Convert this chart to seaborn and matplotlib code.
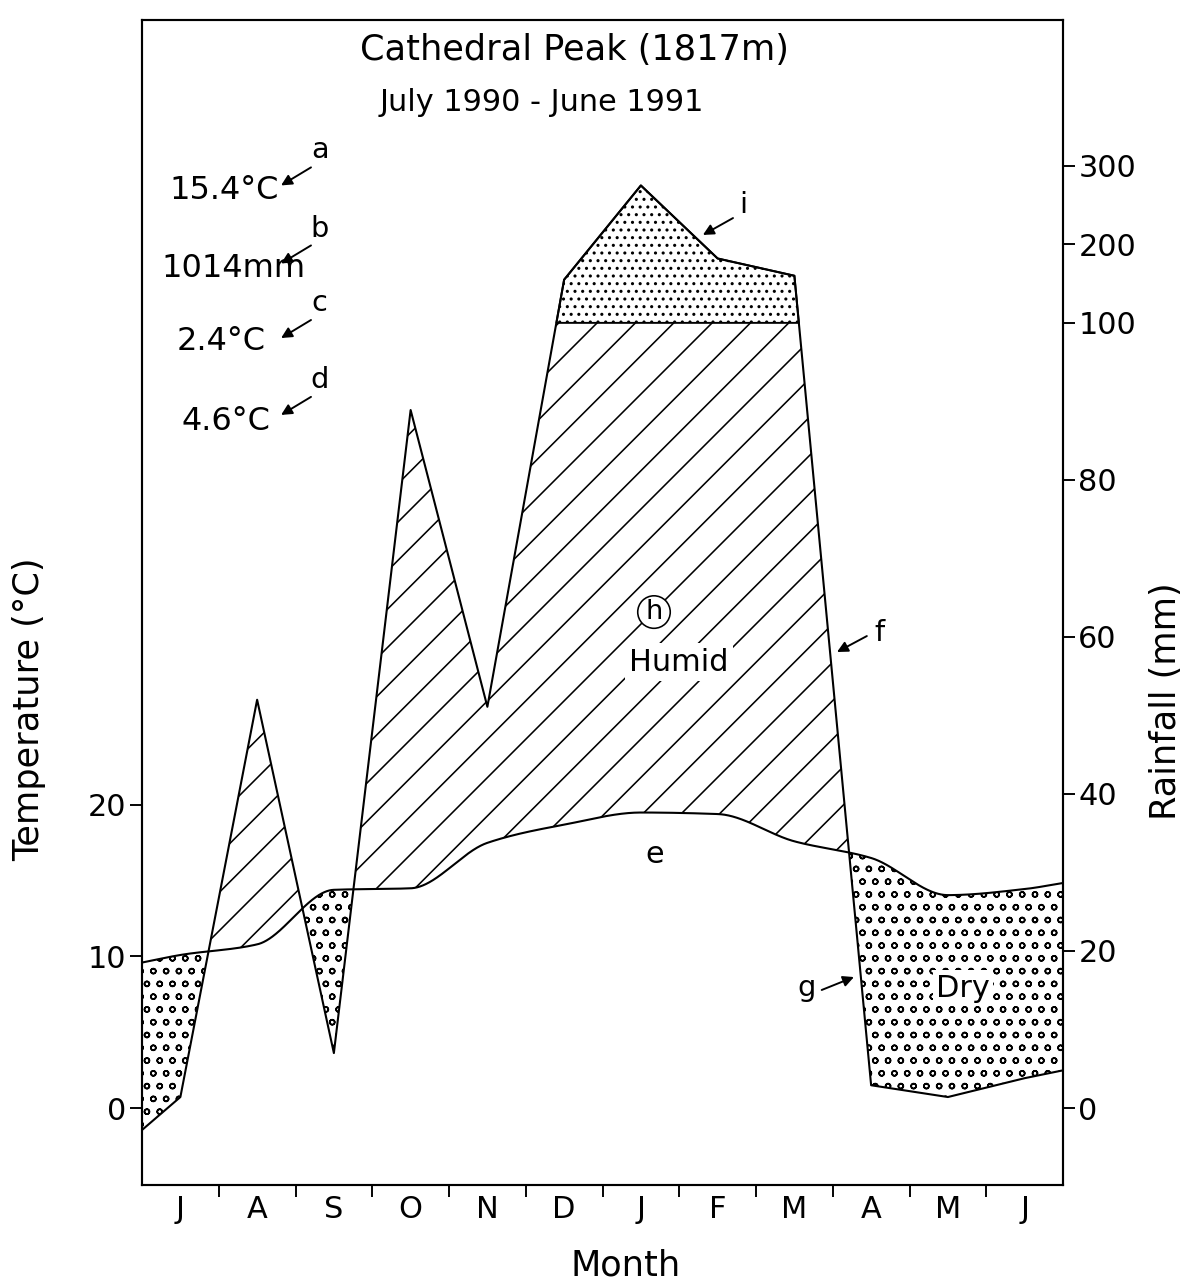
import numpy as np
import pandas as pd
import matplotlib
matplotlib.use("Agg")
import matplotlib.pyplot as plt
import seaborn as sns

# ---------------------------------------------------------------- data
months = ["J", "A", "S", "O", "N", "D", "J", "F", "M", "A", "M", "J"]

# mean monthly temperature (°C), July 1990 - June 1991
temp_monthly = [10.1, 10.8, 14.4, 14.5, 17.5, 18.7, 19.5, 19.4, 17.6, 16.5, 14.05, 14.45]
temp_edges = [9.6, 14.85]          # curve value at start / end of the year

# monthly rainfall (mm)
rain_monthly = [1.4, 52.0, 7.0, 88.9, 51.1, 155.0, 275.0, 182.0, 160.0, 2.9, 1.4, 3.8]
rain_edges = [-2.8, 4.8]           # line value at start / end of the year

temp_ticks = [0, 10, 20]
rain_ticks = [0, 20, 40, 60, 80, 100, 200, 300]

summary_values = ["15.4°C", "1014mm", "2.4°C", "4.6°C"]
summary_keys = ["a", "b", "c", "d"]

# ---------------------------------------------------------------- scales
MM_PER_DEG = 1.93      # rainfall (mm) per temperature degree on the shared axis
RAIN_BREAK = 100.0     # above this the rainfall scale is reduced ten-fold


def rain_scale(mm):
    mm = np.asarray(mm, dtype=float)
    low = mm / MM_PER_DEG
    high = RAIN_BREAK / MM_PER_DEG + (mm - RAIN_BREAK) / (10 * MM_PER_DEG)
    return np.where(mm > RAIN_BREAK, high, low)


def pchip(xk, yk, x):
    """Monotone piecewise cubic curve through the monthly values."""
    xk = np.asarray(xk, float)
    yk = np.asarray(yk, float)
    h = np.diff(xk)
    d = np.diff(yk) / h
    m = np.zeros_like(yk)
    for k in range(1, len(xk) - 1):
        if d[k - 1] * d[k] > 0:
            w1 = 2 * h[k] + h[k - 1]
            w2 = h[k] + 2 * h[k - 1]
            m[k] = (w1 + w2) / (w1 / d[k - 1] + w2 / d[k])
    m[0], m[-1] = d[0], d[-1]
    i = np.clip(np.searchsorted(xk, x) - 1, 0, len(h) - 1)
    t = (x - xk[i]) / h[i]
    h00 = 2 * t**3 - 3 * t**2 + 1
    h10 = t**3 - 2 * t**2 + t
    h01 = -2 * t**3 + 3 * t**2
    h11 = t**3 - t**2
    return h00 * yk[i] + h10 * h[i] * m[i] + h01 * yk[i + 1] + h11 * h[i] * m[i + 1]


centers = np.arange(12) + 0.5
x_nodes = np.concatenate([[0.0], centers, [12.0]])
temp_nodes = np.concatenate([[temp_edges[0]], temp_monthly, [temp_edges[1]]])
rain_nodes = np.concatenate([[rain_edges[0]], rain_monthly, [rain_edges[1]]])
rain_y_nodes = rain_scale(rain_nodes)

xs = np.linspace(0, 12, 4801)
temp_s = pchip(x_nodes, temp_nodes, xs)
rain_s = np.interp(xs, x_nodes, rain_y_nodes)
y_break = float(rain_scale(RAIN_BREAK))

temp_df = pd.DataFrame({"x": xs, "temp": temp_s})
rain_df = pd.DataFrame({"x": x_nodes, "rain": rain_y_nodes})

# ---------------------------------------------------------------- style
sns.set_theme(style="ticks")
DPI = 230
plt.rcParams.update({
    "font.family": ["DejaVu Sans"],
    "axes.edgecolor": "black",
    "axes.linewidth": 0.65,
    "axes.labelcolor": "black",
    "hatch.linewidth": 0.5,
    "hatch.color": "black",
    "text.color": "black",
    "xtick.color": "black",
    "ytick.color": "black",
})

fig = plt.figure(figsize=(1187 / DPI, 1287 / DPI), dpi=DPI)
ax = fig.add_axes([0.11963, 0.07925, 0.77591, 0.90521])
ax.set_facecolor("white")
fig.patch.set_facecolor("white")
ax.set_xlim(0, 12)
ax.set_ylim(-5.08, 71.8)

# ---------------------------------------------------------------- fills
# humid season: rainfall above temperature (up to the scale break)
ax.fill_between(xs, temp_s, np.minimum(rain_s, y_break), where=rain_s >= temp_s,
                interpolate=True, facecolor="none", edgecolor="black",
                linewidth=0, hatch="//", zorder=1)
# very wet months: rainfall above 100 mm
ax.fill_between(xs, y_break, rain_s, where=rain_s >= y_break, interpolate=True,
                facecolor="none", edgecolor="black", linewidth=0.6,
                hatch=".....", zorder=1)
# dry season: rainfall below temperature
ax.fill_between(xs, rain_s, temp_s, where=rain_s <= temp_s, interpolate=True,
                facecolor="none", edgecolor="black", linewidth=0,
                hatch="ooo", zorder=1)

# ---------------------------------------------------------------- lines
sns.lineplot(data=temp_df, x="x", y="temp", color="black", linewidth=0.65,
             ax=ax, zorder=3, sort=False, estimator=None)
sns.lineplot(data=rain_df, x="x", y="rain", color="black", linewidth=0.65,
             ax=ax, zorder=3, sort=False, estimator=None)
ax.set_xlabel("")
ax.set_ylabel("")

# ---------------------------------------------------------------- axes
TICK_FS = 9.5
ax.set_xticks(centers)
ax.set_xticklabels(months, fontsize=TICK_FS)
ax.set_xticks(np.arange(1, 12), minor=True)
ax.tick_params(axis="x", which="major", length=0, pad=3)
ax.tick_params(axis="x", which="minor", length=3.8, width=0.6, direction="out")
ax.set_yticks(temp_ticks)
ax.set_yticklabels([str(t) for t in temp_ticks], fontsize=TICK_FS)
ax.tick_params(axis="y", which="major", length=3.8, width=0.6, direction="out", pad=1)
ax.set_xlim(0, 12)
ax.set_ylim(-5.08, 71.8)

ax2 = ax.twinx()
ax2.set_ylim(ax.get_ylim())
ax2.set_yticks(rain_scale(rain_ticks))
ax2.set_yticklabels([str(r) for r in rain_ticks], fontsize=TICK_FS)
ax2.tick_params(axis="y", length=3.8, width=0.6, direction="out", pad=1)
for sp in list(ax2.spines.values()) + list(ax.spines.values()):
    sp.set_visible(True)
    sp.set_linewidth(0.65)
    sp.set_color("black")

LABEL_FS = 11
ax.set_ylabel("Temperature (°C)", fontsize=LABEL_FS)
ax.yaxis.set_label_coords(-0.104, 0.408)
ax2.set_ylabel("Rainfall (mm)", fontsize=LABEL_FS, rotation=90)
ax2.yaxis.set_label_coords(1.093, 0.415)
ax.set_xlabel("Month", fontsize=LABEL_FS)
ax.xaxis.set_label_coords(0.525, -0.0545)

# ---------------------------------------------------------------- text
ax.text(0.4701, 0.9742, "Cathedral Peak (1817m)", transform=ax.transAxes,
        ha="center", va="center", fontsize=11)
ax.text(0.4343, 0.9296, "July 1990 - June 1991", transform=ax.transAxes,
        ha="center", va="center", fontsize=9.5)

arrow = dict(arrowstyle="-|>", color="black", lw=0.6, mutation_scale=7,
             shrinkA=0, shrinkB=0)

value_pos = [(0.089, 0.854), (0.099, 0.787), (0.086, 0.724), (0.091, 0.655)]
key_pos = [0.888, 0.821, 0.757, 0.691]
for txt, key, (vx, vy), ky in zip(summary_values, summary_keys, value_pos, key_pos):
    ax.text(vx, vy, txt, transform=ax.transAxes, ha="center", va="center",
            fontsize=10)
    ax.text(0.193, ky, key, transform=ax.transAxes, ha="center", va="center",
            fontsize=9)
    ax.annotate("", xy=(0.151, ky - 0.030), xytext=(0.1835, ky - 0.0145),
                xycoords="axes fraction", textcoords="axes fraction",
                arrowprops=arrow)

# diagram element labels
ax.text(0.6526, 0.8412, "i", transform=ax.transAxes, ha="center", va="center", fontsize=9)
ax.annotate("", xy=(0.609, 0.8155), xytext=(0.6417, 0.830),
            xycoords="axes fraction", textcoords="axes fraction", arrowprops=arrow)

ax.text(0.801, 0.4738, "f", transform=ax.transAxes, ha="center", va="center", fontsize=9)
ax.annotate("", xy=(0.7546, 0.4575), xytext=(0.787, 0.4712),
            xycoords="axes fraction", textcoords="axes fraction", arrowprops=arrow)

ax.text(0.722, 0.1690, "g", transform=ax.transAxes, ha="center", va="center", fontsize=9)
ax.annotate("", xy=(0.773, 0.1785), xytext=(0.738, 0.1674),
            xycoords="axes fraction", textcoords="axes fraction", arrowprops=arrow)

ax.text(0.557, 0.2833, "e", transform=ax.transAxes, ha="center", va="center",
        fontsize=9.5, zorder=5)
ax.text(0.5559, 0.4918, "h", transform=ax.transAxes, ha="center", va="center",
        fontsize=8.5, zorder=5,
        bbox=dict(boxstyle="circle,pad=0.12", fc="white", ec="black", lw=0.5))
ax.text(0.5831, 0.4489, "Humid", transform=ax.transAxes, ha="center", va="center",
        fontsize=9.5, zorder=5,
        bbox=dict(boxstyle="square,pad=0.15", fc="white", ec="none"))
ax.text(0.8914, 0.1691, "Dry", transform=ax.transAxes, ha="center", va="center",
        fontsize=9.5, zorder=5,
        bbox=dict(boxstyle="square,pad=0.1", fc="white", ec="none"))

fig.savefig("out.png", dpi=DPI, facecolor="white")
